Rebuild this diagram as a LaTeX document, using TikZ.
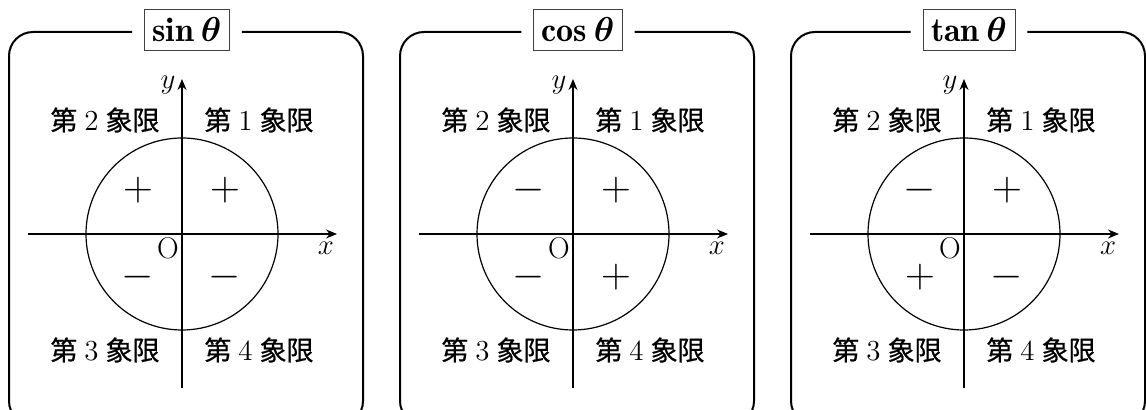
\documentclass[tikz,border=0pt]{standalone}
\usepackage{fontspec}
\usepackage{amsmath}
\newfontfamily\cjk{Noto Sans CJK JP}[FakeBold=0.6]
\usetikzlibrary{arrows.meta}
\tikzset{
 frame/.style={line width=1pt, rounded corners=12pt},
 axis/.style={line width=0.7pt, -{Stealth[length=5.5pt,width=4.5pt]}},
 ttl/.style={draw=black!75, line width=0.4pt, fill=white, inner sep=4pt, font=\fontsize{17}{19}\selectfont\boldmath},
 quad/.style={font=\fontsize{13.5}{15}\selectfont, inner sep=0pt},
 sgn/.style={font=\fontsize{20}{22}\selectfont, inner sep=0pt},
 lbl/.style={font=\fontsize{15}{17}\selectfont, inner sep=0pt},
 unitc/.style={draw, circle, line width=0.6pt, minimum size=96pt, inner sep=0pt},
}
\newcommand\qlabel[1]{{\cjk 第}\hspace{3.5pt}{\fontsize{14.5}{15}\selectfont #1}\hspace{3.5pt}{\cjk 象限}}
\newcommand\mypanel[7]{%
\begin{scope}[shift={(#2,234)}]
 \node[ttl] (t#1) at (5,-204) {$#3\theta$};
 \coordinate (tl#1) at (-173,-202);
 \coordinate (br#1) at (181,191);
 \draw[frame] ([xshift=6pt]t#1.east |- tl#1) -- (br#1 |- tl#1) -- (br#1) -- (tl#1 |- br#1) -- (tl#1) -- ([xshift=-6pt]t#1.west |- tl#1);
 \coordinate (o#1) at (0,0);
 \node[unitc] (c#1) at (o#1) {};
 \coordinate (xl#1) at (-154,0);
 \coordinate (xr#1) at (155,0);
 \coordinate (yb#1) at (0,154);
 \coordinate (yt#1) at (0,-155);
 \draw[axis] (xl#1) -- (xr#1);
 \draw[axis] (yb#1) -- (yt#1);
 \node[lbl] (xlab#1) at (144,14) {$x$};
 \node[lbl] (ylab#1) at (-14,-149) {$y$};
 \node[lbl] (O#1) at (-14,14) {O};
 \node[quad] (qa#1) at (77,-114) {\qlabel{1}};
 \node[quad] (qb#1) at (-77,-114) {\qlabel{2}};
 \node[quad] (qc#1) at (-77,116) {\qlabel{3}};
 \node[quad] (qd#1) at (77,116) {\qlabel{4}};
 \node[sgn] (sa#1) at (43,-44) {$#4$};
 \node[sgn] (sb#1) at (-44,-44) {$#5$};
 \node[sgn] (sc#1) at (-44,43) {$#6$};
 \node[sgn] (sd#1) at (43,43) {$#7$};
\end{scope}}
\begin{document}
\begin{tikzpicture}[x=0.5pt,y=-0.5pt]
\useasboundingbox (0,0) rectangle (1146,410);
\clip (0,0) rectangle (1146,410);
\mypanel{1}{182}{\sin}{+}{+}{-}{-}
\mypanel{2}{573}{\cos}{+}{-}{-}{+}
\mypanel{3}{964}{\tan}{+}{-}{+}{-}
\end{tikzpicture}
\end{document}
